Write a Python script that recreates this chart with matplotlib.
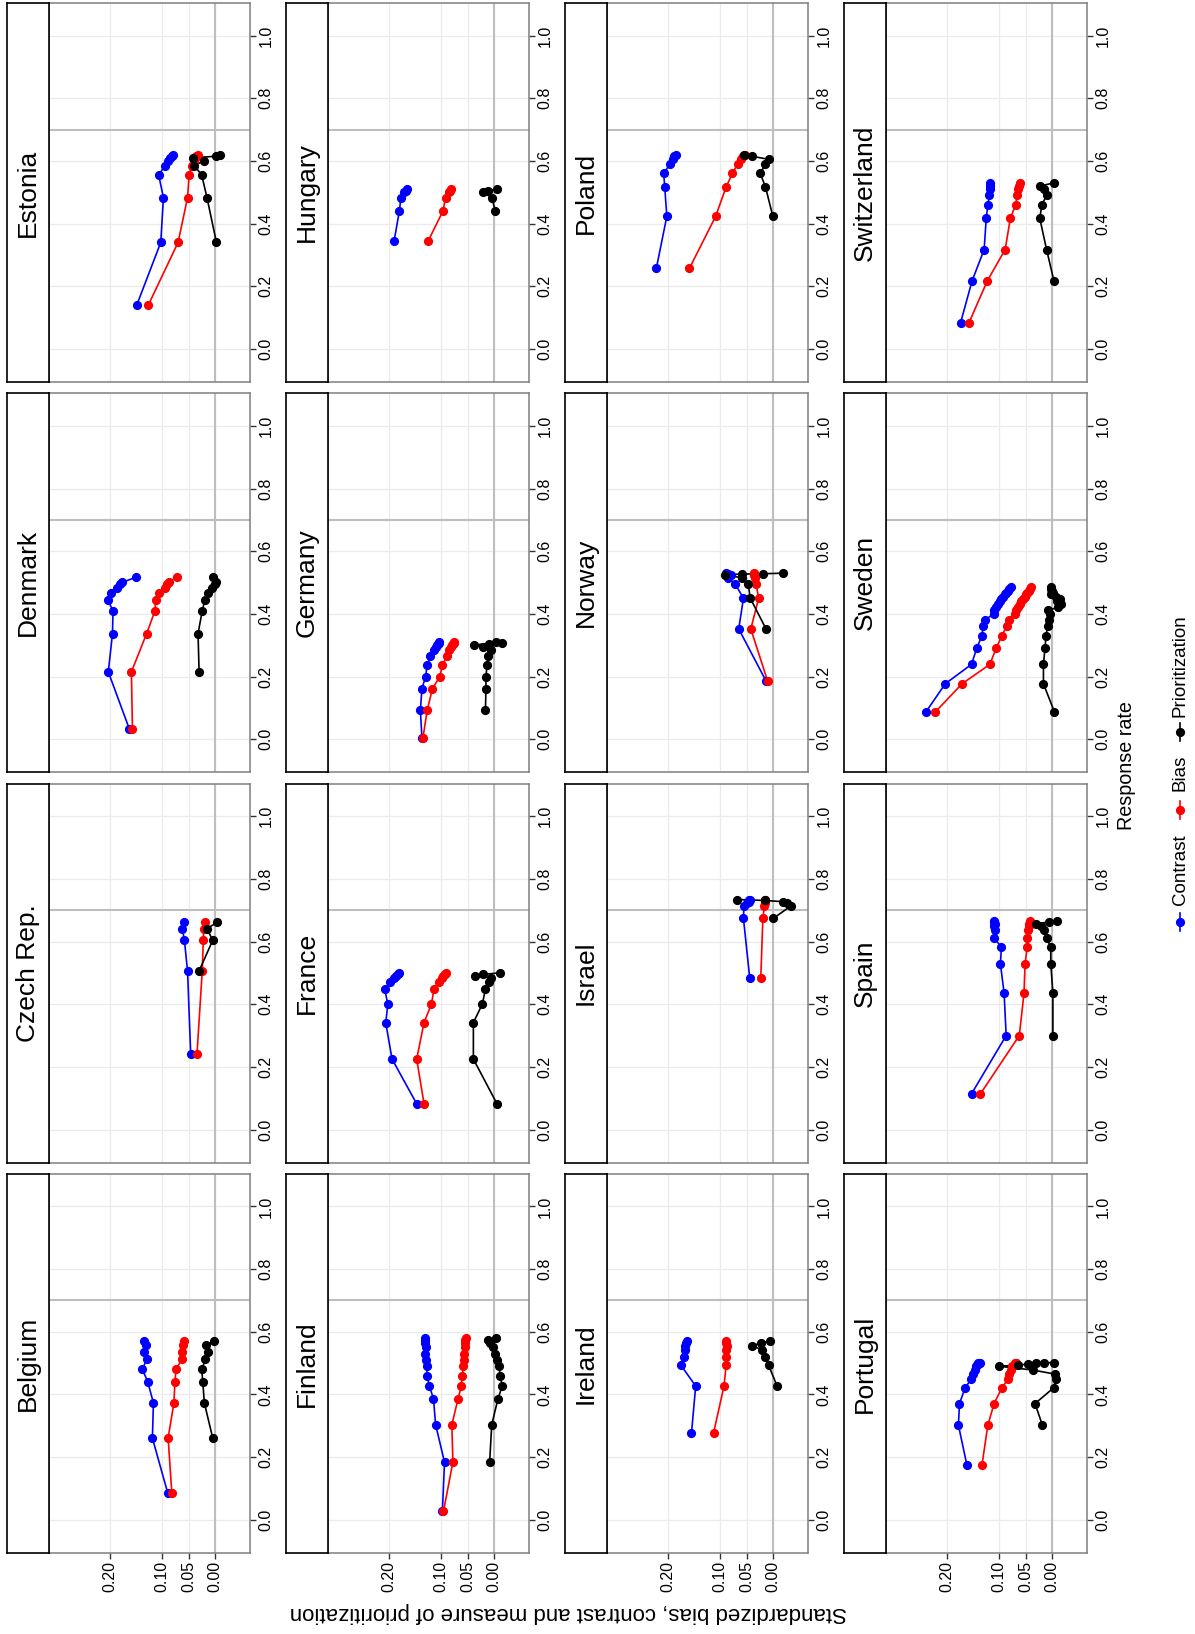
import numpy as np
import matplotlib.pyplot as plt

nan = np.nan

# Länder in der Reihenfolge der Facetten (facet_wrap, 4 Spalten)
countries = ["Belgium", "Czech Rep.", "Denmark", "Estonia",
             "Finland", "France", "Germany", "Hungary",
             "Ireland", "Israel", "Norway", "Poland",
             "Portugal", "Spain", "Sweden", "Switzerland"]

response_rate = {
    "Belgium": [0.087, 0.261, 0.373, 0.441, 0.480, 0.512, 0.535, 0.557, 0.570],
    "Czech Rep.": [0.241, 0.506, 0.604, 0.641, 0.662],
    "Denmark": [0.033, 0.215, 0.337, 0.410, 0.444, 0.467, 0.483, 0.496, 0.501, 0.517],
    "Estonia": [0.139, 0.340, 0.483, 0.555, 0.585, 0.600, 0.610, 0.615, 0.620],
    "Finland": [0.027, 0.184, 0.304, 0.387, 0.427, 0.460, 0.490, 0.510, 0.530, 0.550, 0.565, 0.575, 0.580],
    "France": [0.082, 0.225, 0.341, 0.400, 0.448, 0.472, 0.484, 0.490, 0.495, 0.500],
    "Germany": [0.005, 0.092, 0.161, 0.200, 0.236, 0.265, 0.284, 0.295, 0.301, 0.305, 0.308, 0.310],
    "Hungary": [0.345, 0.440, 0.483, 0.500, 0.505, 0.510],
    "Ireland": [0.277, 0.427, 0.493, 0.520, 0.543, 0.555, 0.565, 0.570],
    "Israel": [0.483, 0.674, 0.713, 0.722, 0.727, 0.731, 0.734],
    "Norway": [0.186, 0.352, 0.450, 0.496, 0.515, 0.525, 0.527, 0.528, 0.530],
    "Poland": [0.257, 0.423, 0.517, 0.560, 0.590, 0.605, 0.615, 0.620],
    "Portugal": [0.176, 0.302, 0.371, 0.422, 0.448, 0.465, 0.478, 0.490, 0.494, 0.497, 0.499, 0.500, 0.502],
    "Spain": [0.114, 0.300, 0.436, 0.529, 0.582, 0.611, 0.638, 0.651, 0.657, 0.662, 0.665],
    "Sweden": [0.087, 0.177, 0.239, 0.291, 0.331, 0.361, 0.381, 0.400, 0.411, 0.421, 0.431, 0.440,
               0.448, 0.455, 0.462, 0.468, 0.473, 0.478, 0.485],
    "Switzerland": [0.083, 0.217, 0.317, 0.417, 0.460, 0.490, 0.510, 0.520, 0.530],
}

contrast = {
    "Belgium": [0.090, 0.119, 0.117, 0.128, 0.138, 0.130, 0.135, 0.132, 0.135],
    "Czech Rep.": [0.046, 0.052, 0.058, 0.062, 0.058],
    "Denmark": [0.163, 0.203, 0.195, 0.194, 0.204, 0.198, 0.186, 0.181, 0.176, 0.150],
    "Estonia": [0.149, 0.103, 0.098, 0.107, 0.095, 0.089, 0.085, 0.082, 0.079],
    "Finland": [0.098, 0.094, 0.111, 0.115, 0.123, 0.127, 0.128, 0.130, 0.131, 0.130, 0.131, 0.132, 0.131],
    "France": [0.147, 0.194, 0.206, 0.202, 0.208, 0.197, 0.190, 0.186, 0.183, 0.181],
    "Germany": [0.137, 0.140, 0.137, 0.130, 0.127, 0.121, 0.114, 0.110, 0.109, 0.107, 0.105, 0.104],
    "Hungary": [0.190, 0.180, 0.177, 0.172, 0.168, 0.166],
    "Ireland": [0.155, 0.147, 0.175, 0.170, 0.167, 0.168, 0.165, 0.163],
    "Israel": [0.044, 0.056, 0.055, 0.050, 0.046, 0.045, 0.044],
    "Norway": [0.013, 0.065, 0.056, 0.072, 0.086, 0.080, 0.085, 0.088, 0.090],
    "Poland": [0.222, 0.202, 0.206, 0.208, 0.196, 0.191, 0.188, 0.185],
    "Portugal": [0.162, 0.178, 0.176, 0.165, 0.154, 0.151, 0.146, 0.145, 0.142, 0.141, 0.140, 0.139, 0.137],
    "Spain": [0.153, 0.087, 0.091, 0.098, 0.096, 0.110, 0.108, 0.110, 0.109, 0.111, 0.111],
    "Sweden": [0.240, 0.203, 0.153, 0.143, 0.133, 0.131, 0.127, 0.111, 0.110, 0.106, 0.102, 0.099,
               0.096, 0.093, 0.090, 0.087, 0.084, 0.081, 0.078],
    "Switzerland": [0.174, 0.152, 0.129, 0.125, 0.122, 0.119, 0.118, 0.118, 0.118],
}

bias = {
    "Belgium": [0.082, 0.089, 0.078, 0.076, 0.074, 0.063, 0.062, 0.060, 0.059],
    "Czech Rep.": [0.034, 0.024, 0.022, 0.021, 0.018],
    "Denmark": [0.157, 0.159, 0.130, 0.114, 0.113, 0.106, 0.095, 0.092, 0.088, 0.073],
    "Estonia": [0.127, 0.070, 0.052, 0.049, 0.044, 0.040, 0.037, 0.035, 0.033],
    "Finland": [0.096, 0.078, 0.080, 0.068, 0.062, 0.060, 0.058, 0.057, 0.056, 0.055, 0.054, 0.054, 0.053],
    "France": [0.133, 0.147, 0.133, 0.119, 0.114, 0.105, 0.098, 0.096, 0.094, 0.092],
    "Germany": [0.135, 0.127, 0.117, 0.103, 0.098, 0.090, 0.086, 0.082, 0.079, 0.077, 0.076, 0.075],
    "Hungary": [0.125, 0.097, 0.092, 0.086, 0.083, 0.081],
    "Ireland": [0.113, 0.093, 0.089, 0.090, 0.089, 0.088, 0.089, 0.089],
    "Israel": [0.023, 0.019, 0.016, 0.015, 0.015, 0.014, 0.014],
    "Norway": [0.010, 0.042, 0.027, 0.032, 0.034, 0.036, 0.035, 0.036, 0.036],
    "Poland": [0.159, 0.109, 0.089, 0.077, 0.067, 0.061, 0.057, 0.053],
    "Portugal": [0.133, 0.122, 0.110, 0.095, 0.084, 0.081, 0.078, 0.075, 0.072, 0.071, 0.070, 0.069, 0.068],
    "Spain": [0.136, 0.062, 0.053, 0.051, 0.047, 0.048, 0.045, 0.043, 0.043, 0.042, 0.042],
    "Sweden": [0.222, 0.171, 0.118, 0.106, 0.095, 0.086, 0.081, 0.071, 0.068, 0.064, 0.061, 0.058,
               0.055, 0.052, 0.050, 0.047, 0.044, 0.042, 0.039],
    "Switzerland": [0.158, 0.123, 0.089, 0.079, 0.069, 0.066, 0.064, 0.062, 0.060],
}

prioritization = {
    "Belgium": [nan, 0.004, 0.020, 0.023, 0.025, 0.018, 0.013, 0.016, 0.002],
    "Czech Rep.": [nan, 0.030, 0.004, 0.015, -0.005],
    "Denmark": [nan, 0.030, 0.032, 0.024, 0.019, 0.013, 0.006, 0.000, -0.002, 0.003],
    "Estonia": [nan, -0.003, 0.015, 0.025, 0.039, 0.021, 0.041, -0.003, -0.010],
    "Finland": [nan, 0.008, 0.004, -0.008, -0.016, -0.012, -0.010, -0.006, -0.002, 0.002, 0.008, 0.012, -0.005],
    "France": [-0.006, 0.039, 0.039, 0.022, 0.016, 0.010, 0.006, 0.035, 0.020, -0.011],
    "Germany": [nan, 0.016, 0.015, 0.015, 0.013, 0.011, 0.006, 0.020, 0.038, 0.010, -0.015, -0.005],
    "Hungary": [nan, -0.003, 0.004, 0.020, 0.012, -0.006],
    "Ireland": [nan, -0.008, 0.008, 0.015, 0.020, 0.040, 0.022, 0.005],
    "Israel": [nan, -0.001, -0.034, -0.027, -0.020, 0.015, 0.068],
    "Norway": [nan, 0.013, 0.043, 0.047, 0.059, 0.091, 0.059, 0.019, -0.019],
    "Poland": [nan, 0.000, 0.014, 0.024, 0.014, 0.008, 0.040, 0.055],
    "Portugal": [nan, 0.018, 0.032, -0.004, -0.007, -0.006, 0.036, 0.100, 0.065, 0.046, 0.014, 0.030, -0.005],
    "Spain": [nan, -0.002, -0.002, 0.002, 0.002, 0.010, 0.014, 0.021, 0.031, 0.005, -0.010],
    "Sweden": [-0.005, 0.016, 0.016, 0.013, 0.011, 0.008, 0.006, 0.004, 0.008, -0.012, -0.017, -0.010,
               -0.015, -0.008, 0.001, -0.002, 0.000, 0.002, 0.001],
    "Switzerland": [nan, -0.004, 0.010, 0.023, 0.019, 0.010, 0.015, 0.022, -0.004],
}

series = [("Contrast", contrast, "#0000FF"),
          ("Bias", bias, "#FF0000"),
          ("Prioritization", prioritization, "#000000")]

value_ticks = [0.20, 0.10, 0.05, 0.00]
value_labels = ["0.20", "0.10", "0.05", "0.00"]
rr_ticks = [0.0, 0.2, 0.4, 0.6, 0.8, 1.0]

W, H = 1195, 1634
plt.rcParams['font.family'] = ['Liberation Sans', 'DejaVu Sans']
fig = plt.figure(figsize=(W / 100, H / 100), dpi=100)


def px(left, top, width, height):
    # Pixelbox (von oben gemessen) -> Figure-Koordinaten
    return [left / W, 1 - (top + height) / H, width / W, height / H]


# Die ganze Grafik ist um 90 Grad gedreht: Werte waagrecht, Rücklaufquote senkrecht
for i, name in enumerate(countries):
    col = i // 4
    row = 3 - i % 4
    left = 49 + 279 * col
    top = 3 + 390.3 * row

    ax = fig.add_axes(px(left, top, 201, 379))
    ax.set_xlim(0.316, -0.067)
    ax.set_ylim(-0.1056, 1.104)
    ax.set_xticks(value_ticks)
    ax.set_yticks(rr_ticks)
    ax.grid(True, color='#EBEBEB', lw=0.9)
    ax.set_axisbelow(True)
    ax.axvline(0, color='#BEBEBE', lw=1.5, zorder=1.5)
    ax.axhline(0.7, color='#BEBEBE', lw=1.5, zorder=1.5)

    rr = response_rate[name]
    for label, data, colour in series:
        ax.plot(data[name], rr, color=colour, lw=1.2, zorder=2)
    for label, data, colour in series:
        ax.plot(data[name], rr, 'o', color=colour, ms=5.6, zorder=3)

    for s in ax.spines.values():
        s.set_color('#7F7F7F')
        s.set_linewidth(1.1)

    ax.yaxis.tick_right()
    ax.tick_params(axis='y', direction='out', length=4, width=1, color='#333333',
                   labelcolor='black', labelsize=11.5, labelrotation=90, pad=2)
    for t in ax.get_yticklabels():
        t.set_va('center')
    if row == 3:
        ax.set_xticklabels(value_labels)
        ax.tick_params(axis='x', direction='out', length=4, width=1, color='#333333',
                       labelcolor='black', labelsize=11.5, labelrotation=90, pad=2)
    else:
        ax.tick_params(axis='x', length=0, labelbottom=False)

    # Streifen mit Ländernamen (links vom Panel)
    sax = fig.add_axes(px(left - 42, top, 42, 379))
    sax.set_xticks([])
    sax.set_yticks([])
    for s in sax.spines.values():
        s.set_color('black')
        s.set_linewidth(1.2)
    sax.text(0.5, 0.5, name, rotation=90, ha='center', va='center',
             fontsize=19, transform=sax.transAxes)

fig.text(568 / W, 1 - 1613 / H, "Standardized bias, contrast and measure of prioritization",
         rotation=180, ha='center', va='center', fontsize=16)
fig.text(1127 / W, 1 - 766 / H, "Response rate", rotation=90,
         ha='center', va='center', fontsize=14.2)

# Legende (gedreht, von unten nach oben)
lax = fig.add_axes(px(1165, 590, 30, 350))
lax.set_xlim(0, 1)
lax.set_ylim(940, 590)
lax.axis('off')
key_pos = [922, 810, 732]
text_pos = [870, 773, 666]
for (label, data, colour), ky, ty in zip(series, key_pos, text_pos):
    lax.plot([0.5, 0.5], [ky - 9, ky + 9], color=colour, lw=1.2)
    lax.plot([0.5], [ky], 'o', color=colour, ms=5.6)
    lax.text(0.5, ty, label, rotation=90, ha='center', va='center', fontsize=13.5)

fig.savefig("out.png", dpi=100)
